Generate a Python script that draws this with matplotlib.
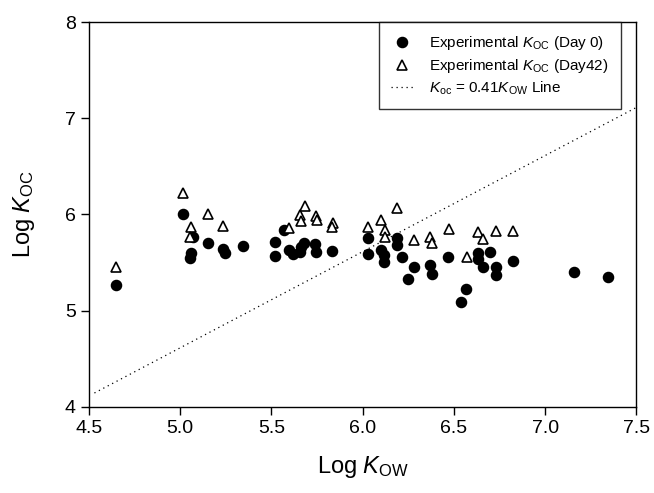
import matplotlib
matplotlib.use("Agg")
import matplotlib.pyplot as plt
import numpy as np

plt.rcParams['font.family'] = ['Liberation Sans', 'DejaVu Sans']
plt.rcParams['mathtext.fontset'] = 'custom'
plt.rcParams['mathtext.rm'] = 'Liberation Sans'
plt.rcParams['mathtext.it'] = 'Liberation Sans:italic'

# Day 0 experimental values (log Kow, log Koc)
day0_x = [4.65, 5.015, 5.07, 5.152, 5.06, 5.052, 5.234, 5.243, 5.343, 5.522,
          5.522, 5.571, 5.595, 5.62, 5.655, 5.662, 5.68, 5.74, 5.745, 5.833,
          6.032, 6.032, 6.10, 6.118, 6.118, 6.19, 6.19, 6.215, 6.281, 6.25,
          6.37, 6.378, 6.47, 6.568, 6.54, 6.633, 6.633, 6.658, 6.70, 6.731,
          6.731, 6.822, 7.161, 7.347]
day0_y = [5.27, 6.00, 5.77, 5.707, 5.60, 5.545, 5.64, 5.60, 5.673, 5.71,
          5.57, 5.84, 5.63, 5.59, 5.61, 5.665, 5.707, 5.69, 5.61, 5.624,
          5.76, 5.585, 5.63, 5.575, 5.505, 5.76, 5.678, 5.555, 5.45, 5.327,
          5.475, 5.38, 5.555, 5.224, 5.086, 5.603, 5.534, 5.458, 5.614, 5.451,
          5.371, 5.52, 5.403, 5.347]

# Day 42 experimental values
day42_x = [4.646, 5.015, 5.152, 5.062, 5.052, 5.234, 5.595, 5.683, 5.656, 5.66,
           5.744, 5.749, 5.838, 5.832, 6.032, 6.10, 6.12, 6.12, 6.19, 6.281,
           6.37, 6.379, 6.471, 6.57, 6.633, 6.658, 6.731, 6.822]
day42_y = [5.451, 6.22, 6.008, 5.87, 5.77, 5.88, 5.862, 6.085, 5.995, 5.935,
           5.982, 5.947, 5.91, 5.868, 5.87, 5.943, 5.839, 5.765, 6.07, 5.735,
           5.767, 5.704, 5.851, 5.558, 5.82, 5.742, 5.83, 5.83]

# Koc = 0.41 Kow line endpoints (log Kow)
line_x = [4.53, 7.5]
line_coef = 0.41

xticks = [4.5, 5.0, 5.5, 6.0, 6.5, 7.0, 7.5]
yticks = [4, 5, 6, 7, 8]

fig = plt.figure(figsize=(6.54, 4.93), dpi=100)
ax = fig.add_axes([0.136, 0.175, 0.837, 0.780])

lx = np.array(line_x)
ly = lx + np.log10(line_coef)
ax.plot(lx, ly, linestyle=(0, (1, 3)), color='black', linewidth=0.9,
        label=r'$K_{\rm oc}$ = 0.41$K_{\rm OW}$ Line')
ax.plot(day0_x, day0_y, 'o', color='black', markersize=7.3, linestyle='none',
        label=r'Experimental $K_{\rm OC}$ (Day 0)')
ax.plot(day42_x, day42_y, '^', markerfacecolor='white', markeredgecolor='black',
        markeredgewidth=1.2, markersize=7.5, linestyle='none',
        label=r'Experimental $K_{\rm OC}$ (Day42)')

ax.set_xlim(4.5, 7.5)
ax.set_ylim(4, 8)
ax.set_xticks(xticks)
ax.set_xticklabels([f"{t:.1f}" for t in xticks])
ax.set_yticks(yticks)
ax.set_yticklabels([str(t) for t in yticks])
ax.tick_params(direction='out', length=6, width=1, labelsize=14)
for s in ax.spines.values():
    s.set_linewidth(1)

ax.set_xlabel(r'Log $K_{\rm OW}$', fontsize=17, labelpad=12)
ax.set_ylabel(r'Log $K_{\rm OC}$', fontsize=17, labelpad=20)

handles, labels = ax.get_legend_handles_labels()
order = [1, 2, 0]
leg = ax.legend([handles[i] for i in order], [labels[i] for i in order],
                loc='upper right', bbox_to_anchor=(0.972, 1.0),
                fontsize=11, frameon=True, fancybox=False,
                edgecolor='black', borderaxespad=0.0, handlelength=1.4,
                handletextpad=1.1, borderpad=0.8, labelspacing=0.3)
leg.get_frame().set_linewidth(1)

fig.savefig('out.png', dpi=100)
